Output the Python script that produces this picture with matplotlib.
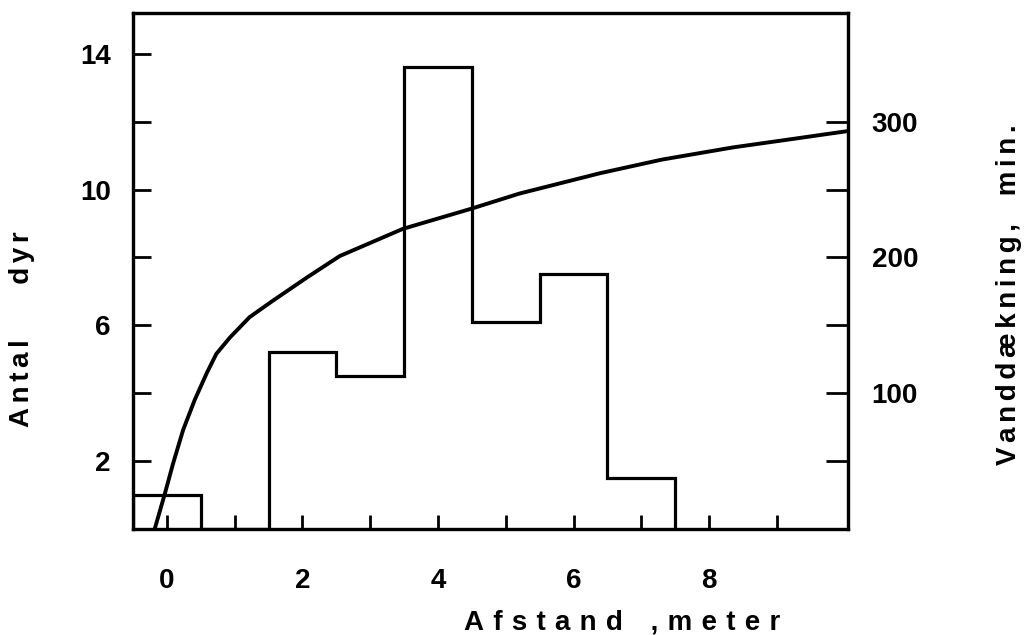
import matplotlib
matplotlib.use("Agg")
import matplotlib.pyplot as plt

plt.rcParams['font.family'] = ['Liberation Sans', 'DejaVu Sans']
plt.rcParams['font.weight'] = 'bold'

# Histogram (Antal dyr) per distance bin
bin_edges = [-0.5, 0.5, 1.5, 2.5, 3.5, 4.5, 5.5, 6.5, 7.5]
antal_dyr = [1.0, 0.0, 5.2, 4.5, 13.6, 6.1, 7.5, 1.5]

# Curve (Vanddaekning, min.)
curve_x = [-0.18, -0.03, 0.09, 0.24, 0.41, 0.59, 0.73, 0.93, 1.22, 1.56, 2.06,
           2.55, 3.48, 4.5, 5.2, 6.39, 7.3, 8.35, 9.2, 10.04]
curve_y = [0, 26, 48, 73, 95, 115, 129, 141, 156, 168, 185,
           201, 221, 236, 247, 262, 272, 281, 287, 293]

x_ticks = [0, 1, 2, 3, 4, 5, 6, 7, 8, 9]
x_labels = ['0', '', '2', '', '4', '', '6', '', '8', '']
left_ticks = [2, 4, 6, 8, 10, 12, 14]
left_labels = ['2', '', '6', '', '10', '', '14']
right_ticks = [50, 100, 150, 200, 250, 300]
right_labels = ['', '100', '', '200', '', '300']

fig = plt.figure(figsize=(10.25, 6.35), dpi=100)
ax = fig.add_axes([133/1025, 1-529/635, (848-133)/1025, (529-13)/635])
ax2 = ax.twinx()

lw = 2.3
ax.stairs(antal_dyr, bin_edges, baseline=0, color='black', linewidth=lw)
ax2.plot(curve_x, curve_y, color='black', linewidth=2.8, solid_capstyle='butt',
         solid_joinstyle='round')

ax.set_xlim(-0.5, 10.05)
ax.set_ylim(0, 15.2)
ax2.set_ylim(0, 380)

ax.set_xticks(x_ticks)
ax.set_xticklabels(x_labels)
ax.set_yticks(left_ticks)
ax.set_yticklabels(left_labels)
ax2.set_yticks(right_ticks)
ax2.set_yticklabels(right_labels)

fs = 20
ax.tick_params(axis='x', direction='in', length=10, width=2, pad=28, labelsize=fs)
ax.tick_params(axis='y', direction='in', length=13, width=2, pad=16, labelsize=fs)
ax2.tick_params(axis='y', direction='in', length=16, width=2, pad=17, labelsize=fs)
for a in (ax, ax2):
    for s in a.spines.values():
        s.set_linewidth(lw)

T = '\u2004'   # three-per-em space
S = '\u2006'   # six-per-em space
xlab = T.join('Afstand') + T * 3 + ',' + T + T.join('meter')
ylab = S.join('Antal') + '\u2003\u2003' + S.join('dyr')
rlab = S.join('Vanddækning,') + '\u2003' + S.join('min.')

fig.text(622/1025, 1-630/635, xlab, ha='center', va='baseline',
         fontsize=20, fontweight='bold')
fig.text(22/1025, 1-329/635, ylab, ha='center', va='center',
         rotation=90, fontsize=20, fontweight='bold')
fig.text(1009/1025, 1-295/635, rlab, ha='center', va='center',
         rotation=90, fontsize=20, fontweight='bold')

fig.savefig('out.png', dpi=100)
